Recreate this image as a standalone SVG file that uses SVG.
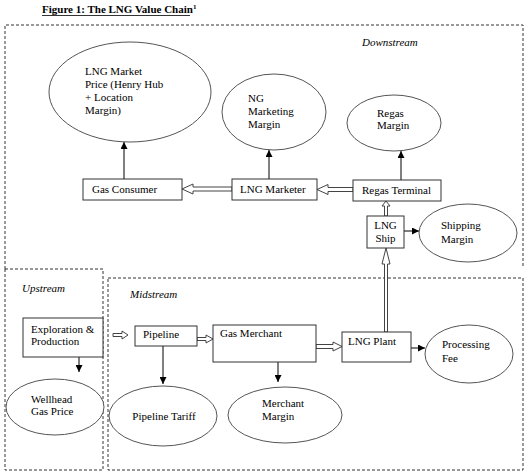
<svg xmlns="http://www.w3.org/2000/svg" width="530" height="475" viewBox="0 0 530 475">
<defs>
<marker id="ah" viewBox="0 0 10 10" refX="10" refY="5" markerWidth="7" markerHeight="7" markerUnits="userSpaceOnUse" orient="auto">
<path d="M0,0 L10,5 L0,10 z" fill="#000"/>
</marker>
</defs>
<style>
.t{font-family:"Liberation Serif","Times New Roman",serif;font-size:11px;fill:#000}
.it{font-family:"Liberation Serif","Times New Roman",serif;font-size:11px;font-style:italic;fill:#000}
.box{fill:#fff;stroke:#333;stroke-width:1}
.ell{fill:#fff;stroke:#555;stroke-width:1}
.dash{fill:none;stroke:#333;stroke-width:1;stroke-dasharray:3,2}
.arr{stroke:#000;stroke-width:1;fill:none;marker-end:url(#ah)}
.hol{fill:#fff;stroke:#444;stroke-width:1}
</style>
<rect width="530" height="475" fill="#fff"/>
<g id="title">
<text class="t" x="42" y="13" font-weight="bold">Figure 1: The LNG Value Chain<tspan font-size="7" dy="-4">1</tspan></text>
<line x1="42" y1="15.5" x2="190" y2="15.5" stroke="#000" stroke-width="0.8"/>
</g>
<g id="regions">
<path class="dash" d="M5,269 V25 H523 V267"/>
<rect class="dash" x="5" y="269" width="98" height="201"/>
<rect class="dash" x="108" y="278" width="415" height="192"/>
<text class="it" x="362" y="46">Downstream</text>
<text class="it" x="22" y="292">Upstream</text>
<text class="it" x="130" y="298">Midstream</text>
</g>
<g id="connectors">
<line class="arr" x1="124" y1="179" x2="124" y2="142"/>
<line class="arr" x1="269" y1="179" x2="269" y2="150"/>
<line class="arr" x1="401" y1="180" x2="401" y2="151"/>
<line class="arr" x1="404" y1="231" x2="419" y2="231"/>
<line class="arr" x1="79" y1="357" x2="79" y2="372"/>
<line class="arr" x1="163" y1="346" x2="163" y2="384"/>
<line class="arr" x1="278" y1="362" x2="278" y2="382"/>
<line class="arr" x1="411" y1="348" x2="425" y2="348"/>
<polygon class="hol" points="353,187.5 328,187.5 328,184.5 317,189.5 328,194.5 328,191.5 353,191.5"/>
<polygon class="hol" points="232,187 193,187 193,184 182,189 193,194 193,191 232,191"/>
<polygon class="hol" points="384.5,216 384.5,206 382,206 386,201 390,206 387.5,206 387.5,216"/>
<polygon class="hol" points="384.5,332 384.5,264 382,264 386,248 390,264 387.5,264 387.5,332"/>
<polygon class="hol" points="113,333.5 122,333.5 122,331 128,335 122,339 122,336.5 113,336.5"/>
<polygon class="hol" points="197,337.5 206,337.5 206,335 213,339 206,343 206,340.5 197,340.5"/>
<polygon class="hol" points="316,344.5 333,344.5 333,342 342,346.5 333,351 333,348.5 316,348.5"/>
</g>
<g id="lng-market-price">
<ellipse class="ell" cx="130" cy="92" rx="81" ry="50"/>
<text class="t" x="85" y="75">LNG Market</text>
<text class="t" x="85" y="88">Price (Henry Hub</text>
<text class="t" x="85" y="101">+ Location</text>
<text class="t" x="85" y="114">Margin)</text>
</g>
<g id="ng-marketing-margin">
<ellipse class="ell" cx="274" cy="112" rx="52" ry="38"/>
<text class="t" x="248" y="102">NG</text>
<text class="t" x="248" y="115">Marketing</text>
<text class="t" x="248" y="128">Margin</text>
</g>
<g id="regas-margin">
<ellipse class="ell" cx="394" cy="123" rx="47" ry="28"/>
<text class="t" x="377" y="117">Regas</text>
<text class="t" x="377" y="129">Margin</text>
</g>
<g id="gas-consumer">
<rect class="box" x="83" y="179" width="99" height="21"/>
<text class="t" x="92" y="193">Gas Consumer</text>
</g>
<g id="lng-marketer">
<rect class="box" x="232" y="179" width="85" height="21"/>
<text class="t" x="240" y="193">LNG Marketer</text>
</g>
<g id="regas-terminal">
<rect class="box" x="353" y="180" width="88" height="21"/>
<text class="t" x="362" y="194">Regas Terminal</text>
</g>
<g id="lng-ship">
<rect class="box" x="367" y="216" width="37" height="32"/>
<text class="t" x="385.5" y="229" text-anchor="middle">LNG</text>
<text class="t" x="385.5" y="242" text-anchor="middle">Ship</text>
</g>
<g id="shipping-margin">
<ellipse class="ell" cx="468" cy="233" rx="49" ry="29"/>
<text class="t" x="441" y="229">Shipping</text>
<text class="t" x="441" y="243">Margin</text>
</g>
<g id="exploration-production">
<rect class="box" x="23" y="318" width="80" height="39"/>
<text class="t" x="31" y="333">Exploration &amp;</text>
<text class="t" x="31" y="345">Production</text>
</g>
<g id="wellhead-gas-price">
<ellipse class="ell" cx="55" cy="407" rx="49" ry="28"/>
<text class="t" x="31" y="403">Wellhead</text>
<text class="t" x="31" y="415">Gas Price</text>
</g>
<g id="pipeline">
<rect class="box" x="135" y="326" width="62" height="20"/>
<text class="t" x="143" y="338">Pipeline</text>
</g>
<g id="pipeline-tariff">
<ellipse class="ell" cx="163" cy="416" rx="54" ry="30"/>
<text class="t" x="164" y="420" text-anchor="middle">Pipeline Tariff</text>
</g>
<g id="gas-merchant">
<rect class="box" x="213" y="325" width="103" height="37"/>
<text class="t" x="220" y="337">Gas Merchant</text>
</g>
<g id="merchant-margin">
<ellipse class="ell" cx="285" cy="415" rx="57" ry="28"/>
<text class="t" x="262" y="407">Merchant</text>
<text class="t" x="262" y="420">Margin</text>
</g>
<g id="lng-plant">
<rect class="box" x="342" y="332" width="69" height="30"/>
<text class="t" x="348" y="345">LNG Plant</text>
</g>
<g id="processing-fee">
<ellipse class="ell" cx="469" cy="354" rx="44" ry="29"/>
<text class="t" x="442" y="348">Processing</text>
<text class="t" x="442" y="362">Fee</text>
</g>
</svg>
